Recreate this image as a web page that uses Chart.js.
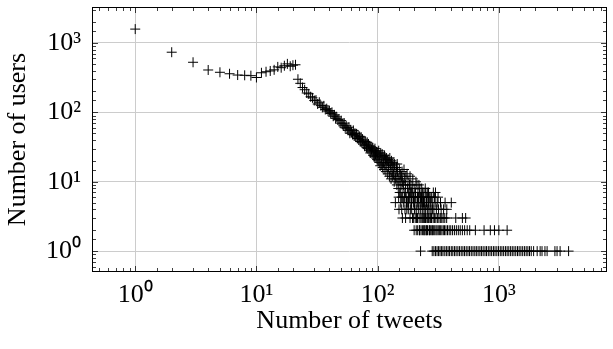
<!DOCTYPE html>
<html>
<head>
<meta charset="utf-8">
<script src="https://cdn.jsdelivr.net/npm/chart.js@4.4.0/dist/chart.umd.min.js"></script>
<style>
    html, body { margin: 0; padding: 0; background: #fff; }
    #wrap { width: 613px; height: 349px; }
</style>
</head>
<body>
<div id="wrap"><canvas id="container" width="613" height="349"></canvas></div>
<script>
// users for tweet counts 1..140 (one value per count)
const headUsers = [
    1585, 736, 527, 408, 378, 360, 345, 342, 338, 318,
    372, 385, 395, 410, 452, 440, 470, 500, 462, 478, 485,
    300, 262, 228, 212, 190, 185, 168, 162, 148,
    150, 132, 140, 125, 118, 124, 110, 113, 104,
    106, 96, 100, 88, 92, 82, 86, 78, 80, 70, 76, 68, 64, 70, 60, 64, 58, 55, 61, 50, 56,
    52, 48, 55, 46, 50, 44, 49, 42, 47, 40, 45, 38, 44, 37, 41, 35, 39, 33, 38, 34,
    31, 37, 30, 35, 28, 33, 26, 32, 29, 27, 31, 24, 28, 23, 30, 25, 22, 27, 21, 26,
    20, 28, 19, 24, 17, 26, 22, 18, 25, 16, 23, 19, 15, 24, 18, 21, 14, 22, 17, 20,
    13, 21, 16, 19, 12, 22, 15, 18, 11, 20, 14, 17, 12, 19, 13, 16, 10, 18, 14, 11
];

// 141..280 tweets
const midTweets = [142, 143, 144, 145, 146, 147, 148, 150, 151, 152, 153, 154, 156, 157, 158, 159, 160,
    162, 163, 164, 165, 166, 167, 168, 170, 171, 172, 174, 175, 176, 177, 178, 180, 182, 183, 184,
    185, 186, 187, 188, 190, 192, 193, 194, 195, 196, 198, 199, 200, 203, 205, 206, 207, 209, 211,
    212, 215, 217, 218, 219, 221, 223, 224, 227, 229, 230, 231, 233, 236, 239, 241, 242, 245, 247,
    248, 251, 253, 254, 257, 260, 263, 264, 268, 271, 272, 276, 280];
const midUsers = [12, 16, 9, 18, 14, 11, 8, 11, 15, 7, 10, 13, 9, 12, 6, 14, 10,
    8, 9, 5, 15, 11, 6, 7, 9, 12, 6, 4, 13, 8, 5, 10, 5, 7, 9, 6,
    12, 4, 7, 9, 5, 7, 8, 3, 11, 6, 5, 6, 8, 4, 7, 6, 10, 3, 9,
    5, 7, 6, 4, 9, 2, 8, 5, 3, 5, 6, 8, 4, 3, 5, 7, 2, 4, 8,
    3, 6, 5, 2, 4, 3, 7, 5, 2, 6, 3, 4, 2];

// tail rows: tweet counts shared by 1..7 users
const tailOne = [226, 282, 291, 300, 309, 318, 327, 337, 346, 358, 369, 381, 392, 405, 417, 431,
    444, 459, 473, 489, 505, 521, 538, 556, 573, 592, 612, 633, 652, 674, 697, 718, 742, 768,
    791, 818, 845, 872, 902, 930, 962, 993, 1027, 1060, 1095, 1133, 1170, 1208, 1250, 1290,
    1333, 1378, 1425, 1470, 1520, 1572, 1625, 1680, 1735, 1790, 1850, 1935,
    2070, 2190, 2270, 2400, 2500, 2900, 3020, 3200, 3760];
const tailTwo = [200, 208, 214, 222, 228, 234, 240, 246, 252, 258, 266, 274, 284, 290, 296, 303,
    309, 316, 323, 331, 339, 348, 356, 366, 377, 389, 401, 415, 430, 446, 463, 480, 500, 522,
    548, 575, 640, 755, 850, 920, 1000, 1170];
const tailThree = [160, 170, 185, 197, 204, 213, 220, 232, 238, 244, 250, 256, 262, 270, 278,
    287, 294, 302, 311, 320, 329, 338, 347, 358, 371, 441, 500, 532];
const tailFour = [150, 158, 168, 179, 191, 201, 210, 225, 237, 249, 261, 270, 283, 291, 305,
    318, 334, 350, 372];
const tailFive = [140, 155, 173, 189, 202, 216, 234, 244, 262, 274, 285, 298, 310, 330, 360, 405];
const tailSix = [149, 161, 181, 197, 213, 226, 238, 256, 266, 279, 295, 315];
const tailSeven = [155, 169, 179, 191, 204, 222, 235, 250, 259, 288, 300];

const xRange = [0.44, 7800];
const yRange = [0.5, 3300];
const supDigits = ['\u2070', '\u00b9', '\u00b2', '\u00b3'];

function isPow10(v) {
    const l = Math.log10(v);
    return Math.abs(l - Math.round(l)) < 1e-9;
}

function powLabel(v) {
    if (!isPow10(v)) return '';
    const e = Math.round(Math.log10(v));
    if (e < 0 || e > 3) return '';
    return '10' + supDigits[e];
}

const points = [];
headUsers.forEach((u, i) => points.push({ x: i + 1, y: u }));
midTweets.forEach((t, i) => points.push({ x: t, y: midUsers[i] }));
[[tailOne, 1], [tailTwo, 2], [tailThree, 3], [tailFour, 4], [tailFive, 5], [tailSix, 6], [tailSeven, 7]]
    .forEach(([list, n]) => list.forEach(t => points.push({ x: t, y: n })));

// frame + inner minor/major ticks on all four sides
const framePlugin = {
    id: 'frame',
    afterDraw(chart) {
        const { ctx, chartArea: a, scales } = chart;
        ctx.save();
        ctx.strokeStyle = 'rgba(0,0,0,0.75)';
        ctx.lineWidth = 1;
        ctx.beginPath();
        scales.x.ticks.forEach(t => {
            const v = t.value;
            if (v <= xRange[0] * 1.001 || v >= xRange[1] * 0.999) return;
            const p = Math.round(scales.x.getPixelForValue(v)) + 0.5;
            const len = isPow10(v) ? 6 : 4;
            ctx.moveTo(p, a.bottom); ctx.lineTo(p, a.bottom - len);
            ctx.moveTo(p, a.top); ctx.lineTo(p, a.top + len);
        });
        scales.y.ticks.forEach(t => {
            const v = t.value;
            if (v <= yRange[0] * 1.001 || v >= yRange[1] * 0.999) return;
            const p = Math.round(scales.y.getPixelForValue(v)) + 0.5;
            const len = isPow10(v) ? 6 : 4;
            ctx.moveTo(a.left, p); ctx.lineTo(a.left + len, p);
            ctx.moveTo(a.right, p); ctx.lineTo(a.right - len, p);
        });
        ctx.stroke();
        ctx.strokeStyle = '#000';
        ctx.strokeRect(Math.round(a.left) + 0.5, Math.round(a.top) + 0.5,
            Math.round(a.right - a.left) - 1, Math.round(a.bottom - a.top) - 1);
        ctx.restore();
    }
};

const serif = { family: "'Liberation Serif', 'Times New Roman', serif", size: 26 };

function gridColor(c) {
    return c.tick && isPow10(c.tick.value) ? '#cccccc' : 'rgba(0,0,0,0)';
}

const ctx = document.getElementById('container').getContext('2d');
const chart = new Chart(ctx, {
    type: 'scatter',
    data: {
        datasets: [{
            data: points,
            pointStyle: 'cross',
            pointRadius: 5,
            borderColor: '#000',
            backgroundColor: '#000',
            borderWidth: 1
        }]
    },
    options: {
        responsive: false,
        animation: false,
        events: [],
        layout: { padding: { left: 0, right: 2, top: 7, bottom: 0 } },
        plugins: { legend: { display: false }, tooltip: { enabled: false } },
        scales: {
            x: {
                type: 'logarithmic',
                min: xRange[0],
                max: xRange[1],
                border: { display: false },
                grid: { color: gridColor, drawTicks: false, lineWidth: 1 },
                ticks: {
                    autoSkip: false, maxRotation: 0, minRotation: 0, padding: 8,
                    color: '#000', font: serif,
                    callback: v => powLabel(v)
                },
                title: { display: true, text: 'Number of tweets', color: '#000', font: serif,
                    padding: { top: 0, bottom: 12 } },
                afterFit: s => { s.height = 77; s.paddingLeft = 0; s.paddingRight = 0; }
            },
            y: {
                type: 'logarithmic',
                min: yRange[0],
                max: yRange[1],
                border: { display: false },
                grid: { color: gridColor, drawTicks: false, lineWidth: 1 },
                ticks: {
                    autoSkip: false, padding: 11,
                    color: '#000', font: serif,
                    callback: v => powLabel(v)
                },
                title: { display: true, text: 'Number of users', color: '#000', font: serif,
                    padding: { top: 3, bottom: 0 } },
                afterFit: s => { s.width = 92; s.paddingTop = 0; s.paddingBottom = 0; }
            }
        }
    },
    plugins: [framePlugin]
});
</script>
</body>
</html>
